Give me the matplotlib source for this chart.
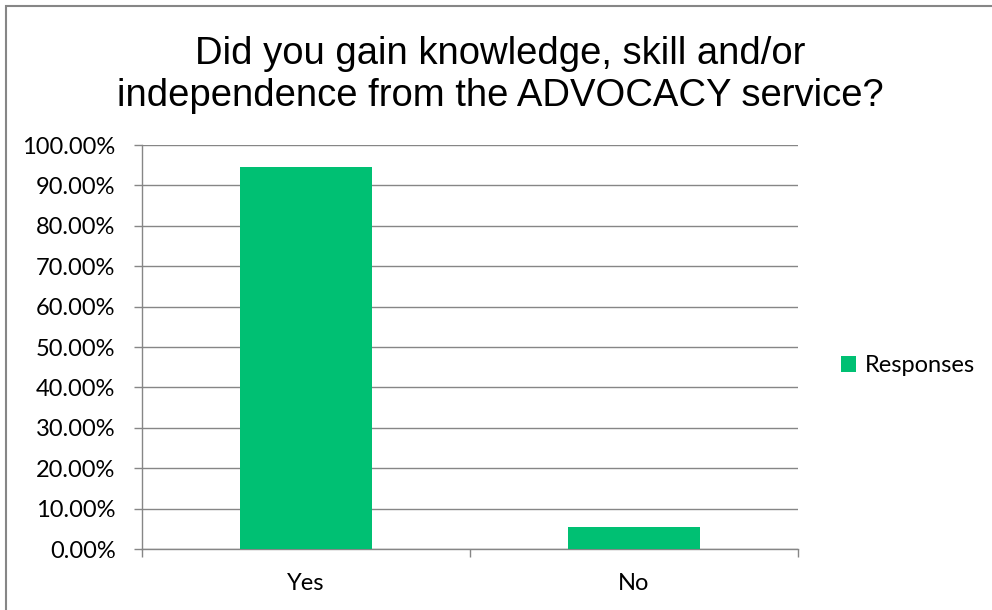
import matplotlib.pyplot as plt
from matplotlib.patches import Rectangle
from matplotlib.ticker import FuncFormatter, MultipleLocator

# survey answers (share of responses, %)
categories = ["Yes", "No"]
responses = [94.55, 5.45]

title = "Did you gain knowledge, skill and/or\nindependence from the ADVOCACY service?"

BAR_COLOR = "#00C073"
LINE_COLOR = "#868686"
LABEL_FONT = ["Lato", "DejaVu Sans"]
LABEL_SIZE = 17

W, H = 992, 610
fig = plt.figure(figsize=(W / 100, H / 100), dpi=100)

# chart frame, runs off the right and bottom edge
fig.patches.append(Rectangle((6 / W, -0.1), 1.2, 1 - 6 / H + 0.1,
                             transform=fig.transFigure, fill=False,
                             edgecolor=LINE_COLOR, linewidth=1.5))

# heading of the page above, only its descenders are left in view
fig.text(362 / W, 1 + 9 / H, "pp", ha="center", va="baseline",
         fontsize=16, fontweight="bold", family="Liberation Sans")

ax = fig.add_axes([142 / W, 1 - 549 / H, (798 - 142) / W, (549 - 145) / H])

x = range(len(categories))
ax.bar(x, responses, width=0.4, color=BAR_COLOR, label="Responses", zorder=3)

ax.set_xlim(-0.5, len(categories) - 0.5)
ax.set_ylim(0, 100)
ax.yaxis.set_major_locator(MultipleLocator(10))
ax.yaxis.set_major_formatter(FuncFormatter(lambda v, _: f"{v:.2f}%"))
ax.grid(axis="y", color=LINE_COLOR, linewidth=1, zorder=0)

# category ticks sit between the bars, labels in the middle
ax.set_xticks([-0.5, 0.5, 1.5])
ax.set_xticklabels([])
ax.set_xticks(list(x), minor=True)
ax.set_xticklabels(categories, minor=True)
ax.tick_params(axis="x", which="major", length=6, width=1, color=LINE_COLOR)
ax.tick_params(axis="x", which="minor", length=0, pad=17)
ax.tick_params(axis="y", length=6, width=1, color=LINE_COLOR, pad=13)

for lab in ax.get_xticklabels(minor=True) + ax.get_yticklabels():
    lab.set_family(LABEL_FONT)
    lab.set_fontsize(LABEL_SIZE)
    lab.set_color("black")

for side in ("top", "right"):
    ax.spines[side].set_visible(False)
for side in ("left", "bottom"):
    ax.spines[side].set_color(LINE_COLOR)
    ax.spines[side].set_linewidth(1)

fig.text(500 / W, 1 - 75 / H, title, ha="center", va="center",
         fontsize=27.5, family="Liberation Sans", linespacing=1.22)

fig.legend(loc="center left", bbox_to_anchor=(841 / W, 1 - 366 / H),
           frameon=False, prop={"family": LABEL_FONT, "size": LABEL_SIZE},
           handlelength=0.65, handleheight=0.65, handletextpad=0.35,
           borderpad=0, borderaxespad=0)

fig.savefig("out.png", dpi=100)
